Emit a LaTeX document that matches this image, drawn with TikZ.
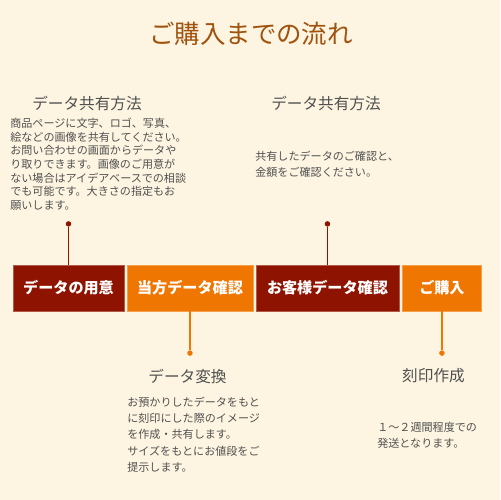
\documentclass[tikz,border=0pt]{standalone}
\usepackage{fontspec}
\setmainfont{Noto Sans CJK JP}
\usetikzlibrary{positioning}

\definecolor{bgcream}{HTML}{FDF5E1}
\definecolor{titlebrown}{HTML}{A0520F}
\definecolor{deepred}{HTML}{8E1300}
\definecolor{flowor}{HTML}{EF7600}
\definecolor{textgray}{HTML}{505050}

\begin{document}
\begin{tikzpicture}[
    x=0.02cm, y=-0.02cm,
    node distance=0.06cm,
    stepbox/.style={rectangle, minimum height=0.92cm, inner sep=0pt, outer sep=0pt, text=white,
        font=\fontsize{8.6}{10}\selectfont\bfseries, line width=0.5pt},
    darkstep/.style={stepbox, fill=deepred, draw=deepred!70!white},
    lightstep/.style={stepbox, fill=flowor, draw=flowor!70!white},
    joint/.style={circle, fill=#1, inner sep=0pt, minimum size=0.11cm},
    heading/.style={text=textgray, inner sep=0pt, font=\fontsize{8.9}{10}\selectfont},
    bodytext/.style={text=textgray, inner sep=0pt, align=left, anchor=north west,
        font=\fontsize{6.3}{9.3}\selectfont},
    link/.style={line width=0.8pt}
]
    \fill[bgcream] (0,0) rectangle (500,500);

    % title
    \node[text=titlebrown, inner sep=0pt, font=\fontsize{14.5}{16}\selectfont] (title) at (251,34) {ご購入までの流れ};

    % steps
    \node[darkstep, minimum width=2.22cm] (b1) at (68.5,288) {データの用意};
    \node[lightstep, minimum width=2.52cm, right=of b1] (b2) {当方データ確認};
    \node[darkstep, minimum width=2.86cm, right=of b2] (b3) {お客様データ確認};
    \node[lightstep, minimum width=1.6cm, right=of b3] (b4) {ご購入};

    % markers
    \node[joint=deepred, above=0.76cm of b1] (j1) {};
    \node[joint=deepred, above=0.76cm of b3] (j3) {};
    \node[joint=flowor, below=0.78cm of b2] (j2) {};
    \node[joint=flowor, below=0.78cm of b4] (j4) {};

    \draw[link, deepred] (b1) -- (j1);
    \draw[link, deepred] (b3) -- (j3);
    \draw[link, flowor] (b2) -- (j2);
    \draw[link, flowor] (b4) -- (j4);

    % notes above
    \node[heading] (h1) at (87,103) {データ共有方法};
    \node[bodytext, font=\fontsize{6.3}{7.8}\selectfont] (t1) at (10,117.5)
        {商品ページに文字、ロゴ、写真、\\絵などの画像を共有してください。\\お問い合わせの画面からデータや\\り取りできます。画像のご用意が\\ない場合はアイデアベースでの相談\\でも可能です。大きさの指定もお\\願いします。};
    \node[heading] (h3) at (326,103) {データ共有方法};
    \node[bodytext] (t3) at (255,150.5)
        {共有したデータのご確認と、\\金額をご確認ください。};

    % notes below
    \node[heading] (h2) at (187.5,376) {データ変換};
    \node[bodytext] (t2) at (127,396.5)
        {お預かりしたデータをもと\\に刻印にした際のイメージ\\を作成・共有します。\\サイズをもとにお値段をご\\提示します。};
    \node[heading] (h4) at (433.5,376) {刻印作成};
    \node[bodytext] (t4) at (377,421.5)
        {１～２週間程度での\\発送となります。};
\end{tikzpicture}
\end{document}
